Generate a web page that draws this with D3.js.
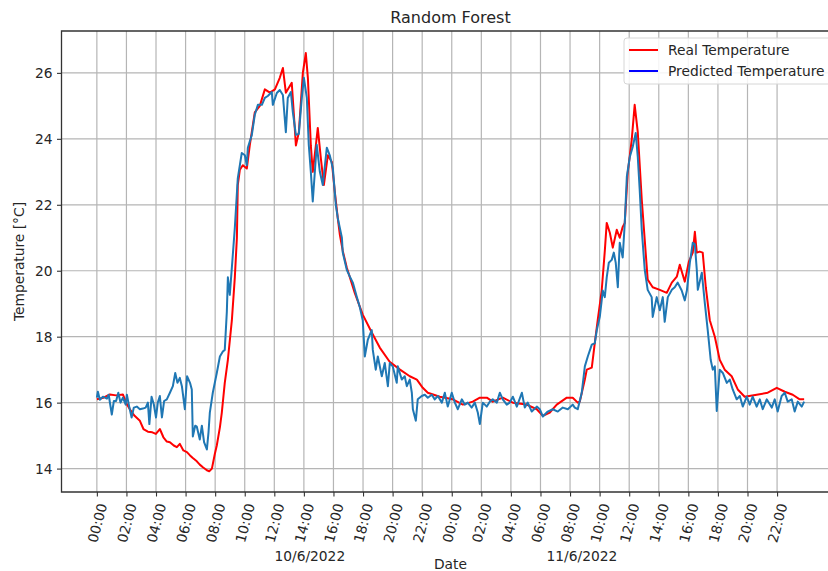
<!DOCTYPE html>
<html>
<head>
<meta charset="utf-8">
<script src="https://d3js.org/d3.v7.min.js"></script>
<style>
body { margin: 0; background: #fff; }
svg text { font-family: "DejaVu Sans", sans-serif; fill: #262626; }
</style>
</head>
<body>
<div class="chart"></div>
<script>
// hours since 10/6/2022 00:00
var realHours = [0.00,0.45,0.88,1.30,1.76,2.03,2.23,2.55,2.91,3.15,3.45,3.75,3.99,4.26,4.50,4.73,4.94,5.20,5.41,5.61,5.85,6.09,6.30,6.49,6.76,6.96,7.17,7.44,7.60,7.78,7.98,8.11,8.32,8.45,8.65,8.86,9.13,9.33,9.47,9.53,9.67,9.87,10.14,10.34,10.68,11.02,11.36,11.70,12.04,12.37,12.58,12.78,13.05,13.18,13.46,13.66,13.93,14.13,14.27,14.47,14.60,14.81,14.94,15.15,15.35,15.62,15.89,16.09,16.29,16.43,16.63,16.90,17.44,17.98,18.60,19.13,19.80,20.50,21.16,21.64,22.04,22.38,23.19,24.07,24.75,25.42,25.90,26.37,26.77,27.45,28.13,29.07,29.75,30.16,30.63,31.10,31.78,32.18,32.52,32.66,33.00,33.13,33.47,33.67,33.87,34.14,34.35,34.48,34.69,34.89,35.16,35.36,35.56,35.70,35.90,36.17,36.37,36.58,36.85,37.05,37.25,37.59,38.07,38.54,38.88,39.22,39.42,39.76,40.03,40.30,40.44,40.57,40.77,40.97,41.18,41.45,41.79,42.12,42.46,42.93,43.34,43.81,44.62,45.37,45.98,46.52,47.06,47.53,47.83];
var realTemp = [16.10,16.15,16.25,16.22,16.25,15.95,15.80,15.60,15.45,15.20,15.12,15.10,15.05,15.20,14.95,14.82,14.80,14.70,14.65,14.75,14.55,14.50,14.40,14.32,14.22,14.12,14.04,13.95,13.92,14.00,14.45,14.70,15.25,15.70,16.60,17.30,18.50,19.80,21.00,22.60,23.06,23.20,23.10,23.80,24.80,25.00,25.50,25.40,25.50,25.85,26.15,25.40,25.60,25.70,23.80,24.20,26.00,26.60,25.85,23.80,23.00,23.80,24.33,23.40,22.60,23.50,23.30,22.40,21.60,21.10,20.60,20.10,19.33,18.67,18.12,17.67,17.24,17.00,16.80,16.70,16.45,16.30,16.18,16.10,15.94,16.03,16.15,16.15,16.03,16.15,16.00,15.94,15.80,15.60,15.70,15.94,16.15,16.15,16.00,16.03,16.70,17.00,17.06,17.80,18.50,19.40,20.60,21.45,21.15,20.70,21.24,21.00,21.33,21.45,22.97,23.97,25.03,24.20,22.15,20.94,19.73,19.50,19.42,19.33,19.64,19.82,20.18,19.67,20.27,20.55,21.18,20.55,20.58,20.55,19.50,18.50,18.00,17.30,17.00,16.80,16.40,16.18,16.24,16.30,16.45,16.33,16.24,16.10,16.10];

var predHours = [0.00,0.07,0.20,0.41,0.68,0.80,1.01,1.15,1.30,1.45,1.60,1.76,1.95,2.03,2.20,2.35,2.50,2.70,2.91,3.11,3.30,3.45,3.55,3.70,3.85,4.00,4.12,4.26,4.40,4.55,4.73,4.94,5.14,5.30,5.45,5.61,5.75,5.95,6.10,6.30,6.42,6.49,6.65,6.76,6.96,7.10,7.25,7.44,7.55,7.64,7.84,8.11,8.32,8.52,8.65,8.79,8.86,8.99,9.13,9.33,9.53,9.67,9.80,10.01,10.14,10.21,10.48,10.68,10.89,11.16,11.36,11.56,11.83,11.90,12.17,12.37,12.58,12.78,12.91,13.12,13.25,13.46,13.66,13.86,14.00,14.20,14.33,14.47,14.60,14.87,15.08,15.28,15.55,15.75,15.96,16.16,16.29,16.57,16.63,16.90,17.11,17.31,17.58,17.78,17.98,18.12,18.32,18.59,18.66,18.86,19.00,19.27,19.47,19.68,19.81,20.01,20.28,20.35,20.62,20.82,20.96,21.16,21.30,21.37,21.57,21.70,21.97,22.18,22.38,22.65,22.85,23.06,23.33,23.53,23.73,24.00,24.21,24.41,24.68,24.88,25.08,25.35,25.56,25.76,25.90,26.10,26.37,26.57,26.77,27.05,27.25,27.45,27.72,27.92,28.13,28.40,28.74,28.94,29.14,29.41,29.75,29.95,30.16,30.49,30.83,31.17,31.51,31.85,32.18,32.32,32.52,32.79,33.00,33.20,33.47,33.67,33.81,34.01,34.14,34.21,34.35,34.48,34.62,34.82,34.96,35.09,35.23,35.36,35.56,35.70,35.84,36.04,36.24,36.44,36.58,36.71,36.85,37.05,37.25,37.52,37.59,37.86,38.07,38.27,38.40,38.61,38.88,39.08,39.28,39.55,39.76,39.90,40.10,40.30,40.44,40.57,40.64,40.91,41.11,41.31,41.51,41.65,41.79,41.92,42.12,42.33,42.60,42.80,43.00,43.27,43.48,43.68,43.95,44.15,44.35,44.62,44.83,45.03,45.30,45.64,45.84,46.04,46.31,46.52,46.72,46.99,47.19,47.40,47.67,47.83];
var predTemp = [16.15,16.33,16.09,16.18,16.12,16.24,15.64,16.05,16.05,16.30,16.00,16.15,15.94,16.24,15.85,15.55,15.85,15.88,15.80,15.82,15.85,16.00,15.35,16.18,15.95,15.55,16.00,16.20,15.55,16.05,16.10,16.30,16.50,16.90,16.60,16.75,16.50,15.80,16.80,16.60,16.40,14.97,15.30,15.27,14.88,15.30,14.80,14.58,15.10,15.70,16.30,16.90,17.40,17.55,17.60,18.76,19.80,19.27,20.10,21.30,22.80,23.20,23.57,23.50,23.20,23.73,24.12,24.73,25.03,25.03,25.24,25.30,25.42,25.03,25.39,25.48,25.33,24.20,25.24,25.42,24.82,24.12,24.15,25.24,25.85,25.24,23.82,23.00,22.10,23.82,23.00,22.60,23.73,23.50,23.10,22.00,21.60,21.00,20.55,20.03,19.82,19.64,19.20,18.90,18.50,17.40,17.90,18.20,17.60,17.00,17.40,16.80,17.20,16.50,17.20,17.10,16.60,17.10,16.70,16.80,16.50,16.70,16.30,15.80,15.45,16.10,16.20,16.24,16.15,16.24,16.10,16.20,16.00,16.30,15.88,16.30,16.00,15.80,16.10,15.94,16.00,15.85,16.00,15.70,15.35,16.00,15.88,16.03,16.10,16.00,16.30,16.10,15.94,16.00,16.18,15.88,16.30,15.85,16.00,15.73,15.88,15.80,15.58,15.73,15.80,15.73,15.85,15.80,15.94,15.85,15.80,16.30,17.10,17.40,17.76,17.80,18.20,18.60,19.10,19.40,19.20,19.80,20.24,20.33,20.55,20.24,19.50,20.85,20.40,21.45,22.85,23.45,23.76,24.18,23.45,22.45,21.24,20.03,19.42,19.20,18.60,19.20,18.80,19.20,18.45,19.20,19.42,19.50,19.64,19.40,19.10,19.40,20.24,20.85,20.80,20.03,19.42,19.94,19.03,18.20,17.30,17.00,17.10,15.75,17.00,16.90,16.60,16.70,16.40,16.10,16.20,15.88,16.18,15.94,16.18,15.88,16.10,15.80,16.10,15.85,16.10,15.73,16.20,16.30,16.03,16.10,15.73,16.03,15.88,16.03];

var yTicks = [14, 16, 18, 20, 22, 24, 26];
var dateLabels = ["10/6/2022", "11/6/2022"];
var dateLabelHours = [14.4, 32.8];
var legendNames = ["Real Temperature", "Predicted Temperature"];
var legendColors = ["red", "blue"];

var width = 828,
    height = 571,
    mLeft = 61.5,
    mTop = 31,
    plotW = 778,   // right spine falls just outside the picture
    plotH = 461,
    fontSize = "13.8px";

var start = new Date(2022, 5, 10, 0, 0);
function toDate(h) { return d3.timeSecond.offset(start, Math.round(h * 3600)); }

var lastHour = d3.max(realHours);
var pad = lastHour * 0.05;

var x = d3.scaleTime()
    .domain([toDate(-pad), toDate(lastHour + pad)])
    .range([mLeft, mLeft + plotW]);

var y = d3.scaleLinear()
    .domain([13.29, 27.27])
    .range([mTop + plotH, mTop]);

var svg = d3.select(".chart").append("svg")
    .attr("width", width)
    .attr("height", height);

var xTicks = d3.timeHour.range(start, toDate(lastHour + 0.01), 2);

//grid
var grid = svg.append("g").attr("class", "grid");
grid.selectAll(".vgrid")
    .data(xTicks)
  .enter().append("line")
    .attr("x1", function(d) { return x(d); })
    .attr("x2", function(d) { return x(d); })
    .attr("y1", mTop)
    .attr("y2", mTop + plotH)
    .style("stroke", "#b5b5b5")
    .style("stroke-width", 1.2);
grid.selectAll(".hgrid")
    .data(yTicks)
  .enter().append("line")
    .attr("x1", mLeft)
    .attr("x2", mLeft + plotW)
    .attr("y1", function(d) { return y(d); })
    .attr("y2", function(d) { return y(d); })
    .style("stroke", "#b5b5b5")
    .style("stroke-width", 1.2);

//lines
var line = d3.line()
    .x(function(d) { return x(toDate(d[0])); })
    .y(function(d) { return y(d[1]); });

var realData = d3.zip(realHours, realTemp);
var predData = d3.zip(predHours, predTemp);

svg.append("path")
    .attr("d", line(realData))
    .attr("fill", "none")
    .style("stroke", "red")
    .style("stroke-width", 2)
    .style("stroke-linejoin", "round");

svg.append("path")
    .attr("d", line(predData))
    .attr("fill", "none")
    .style("stroke", "#1f77b4")
    .style("stroke-width", 2)
    .style("stroke-linejoin", "round");

//axes
var xAxis = svg.append("g")
    .attr("transform", "translate(0," + (mTop + plotH) + ")")
    .call(d3.axisBottom(x)
      .tickValues(xTicks)
      .tickFormat(d3.timeFormat("%H:%M"))
      .tickSize(4.5)
      .tickSizeOuter(0));
xAxis.select(".domain").remove();
xAxis.selectAll("line").style("stroke", "#333").style("stroke-width", 1.1);
xAxis.selectAll("text")
    .style("font-size", fontSize)
    .attr("y", 0)
    .attr("dy", "0.35em")
    .attr("text-anchor", "middle")
    .attr("transform", "translate(0,31) rotate(-75)");

var yAxis = svg.append("g")
    .attr("transform", "translate(" + mLeft + ",0)")
    .call(d3.axisLeft(y).tickValues(yTicks).tickSize(4.5).tickPadding(4.5));
yAxis.select(".domain").remove();
yAxis.selectAll("line").style("stroke", "#333").style("stroke-width", 1.1);
yAxis.selectAll("text").style("font-size", fontSize);

//spines
svg.append("path")
    .attr("d", "M" + (mLeft + plotW) + "," + mTop + "H" + mLeft + "V" + (mTop + plotH) + "H" + (mLeft + plotW))
    .attr("fill", "none")
    .style("stroke", "#333")
    .style("stroke-width", 1.3);

//texts
svg.append("text")
    .attr("x", mLeft + plotW / 2)
    .attr("y", 23)
    .attr("text-anchor", "middle")
    .style("font-size", "16px")
    .text("Random Forest");

svg.append("text")
    .attr("x", mLeft + plotW / 2)
    .attr("y", 569)
    .attr("text-anchor", "middle")
    .style("font-size", fontSize)
    .text("Date");

svg.append("text")
    .attr("transform", "translate(24," + (mTop + plotH / 2) + ") rotate(-90)")
    .attr("text-anchor", "middle")
    .style("font-size", fontSize)
    .text("Temperature [°C]");

svg.selectAll(".datelabel")
    .data(dateLabels)
  .enter().append("text")
    .attr("class", "datelabel")
    .attr("x", function(d, i) { return x(toDate(dateLabelHours[i])); })
    .attr("y", 561)
    .attr("text-anchor", "middle")
    .style("font-size", fontSize)
    .text(function(d) { return d; });

//legend
var legend = svg.append("g").attr("transform", "translate(624,38)");
legend.append("rect")
    .attr("width", 220)
    .attr("height", 46)
    .attr("rx", 3)
    .style("fill", "#fff")
    .style("fill-opacity", 0.85)
    .style("stroke", "#d6d6d6");
legend.selectAll(".item")
    .data(legendNames)
  .enter().append("g")
    .attr("transform", function(d, i) { return "translate(0," + (12 + i * 21) + ")"; })
    .each(function(d, i) {
      var g = d3.select(this);
      g.append("line")
        .attr("x1", 5).attr("x2", 34)
        .style("stroke", legendColors[i])
        .style("stroke-width", 2);
      g.append("text")
        .attr("x", 44)
        .attr("dy", "0.35em")
        .style("font-size", fontSize)
        .text(d);
    });
</script>
</body>
</html>
